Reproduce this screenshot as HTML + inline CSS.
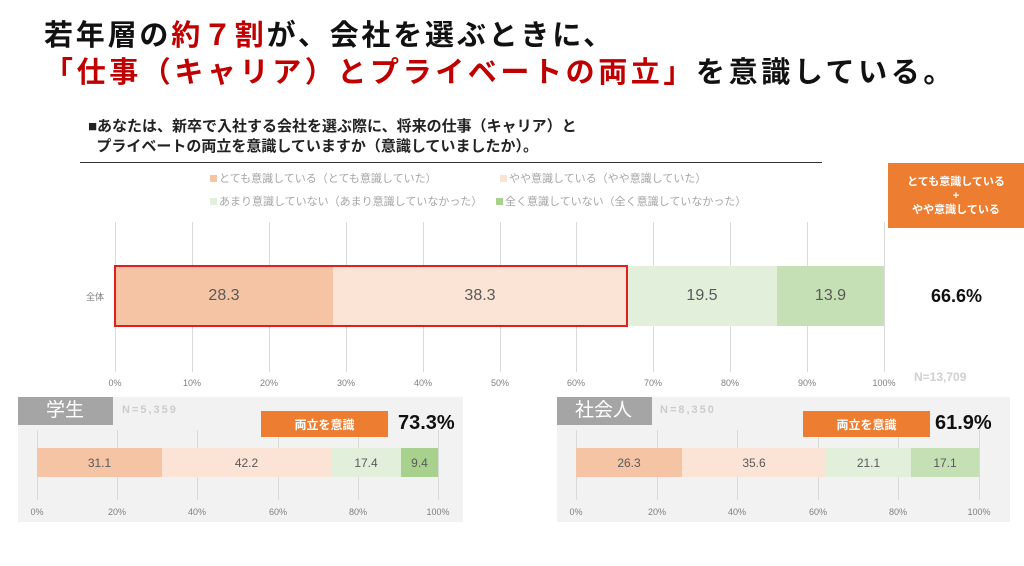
<!DOCTYPE html><html><head><meta charset="utf-8"><style>
body{margin:0;width:1024px;height:566px;background:#fff;position:relative;overflow:hidden;font-family:"Liberation Sans","Noto Sans CJK JP",sans-serif}
.a{position:absolute;white-space:nowrap}
.t{font-weight:bold;font-size:29px;color:#111;letter-spacing:3.6px}
.r{color:#c00000}
.g{position:absolute;width:1px;background:#d9d9d9}
.seg{position:absolute;display:flex;align-items:center;justify-content:center;color:#595959}
.tk{position:absolute;font-size:9px;color:#7f7f7f;transform:translateX(-50%)}
.ob{position:absolute;z-index:5;background:#ed7d31;color:#fff;font-weight:bold;display:flex;align-items:center;justify-content:center;text-align:center}
.lg{font-size:11px;color:#a6a6a6}
.sq{display:inline-block;width:7px;height:7px;margin-right:2px}
</style></head><body>
<div class="a t" style="left:44px;top:12px;letter-spacing:2.8px">若年層の<span class="r">約７割</span>が、会社を選ぶときに、</div>
<div class="a t" style="left:44px;top:49px"><span class="r">「仕事（キャリア）とプライベートの両立」</span>を意識している。</div>
<div class="a" style="left:88px;top:117px;font-size:15px;font-weight:bold;color:#222;line-height:20px">■あなたは、新卒で入社する会社を選ぶ際に、将来の仕事（キャリア）と<br>&nbsp;&nbsp;プライベートの両立を意識していますか（意識していましたか）。</div>
<div class="a" style="left:80px;top:162px;width:742px;height:1px;background:#333"></div>
<div class="a lg" style="left:210px;top:170px"><span class="sq" style="background:#f5c4a5"></span>とても意識している（とても意識していた）</div>
<div class="a lg" style="left:500px;top:170px"><span class="sq" style="background:#fbe3d6"></span>やや意識している（やや意識していた）</div>
<div class="a lg" style="left:210px;top:193px"><span class="sq" style="background:#e2efda"></span>あまり意識していない（あまり意識していなかった）</div>
<div class="a lg" style="left:496px;top:193px"><span class="sq" style="background:#a9d18e"></span>全く意識していない（全く意識していなかった）</div>
<div class="ob" style="left:888px;top:163px;width:136px;height:65px;font-size:11px;line-height:14px">とても意識している<br>+<br>やや意識している</div>
<!-- main grid -->
<div class="g" style="left:115px;top:222px;height:150px"></div><div class="g" style="left:192px;top:222px;height:150px"></div><div class="g" style="left:269px;top:222px;height:150px"></div><div class="g" style="left:346px;top:222px;height:150px"></div><div class="g" style="left:423px;top:222px;height:150px"></div><div class="g" style="left:500px;top:222px;height:150px"></div><div class="g" style="left:576px;top:222px;height:150px"></div><div class="g" style="left:653px;top:222px;height:150px"></div><div class="g" style="left:730px;top:222px;height:150px"></div><div class="g" style="left:807px;top:222px;height:150px"></div><div class="g" style="left:884px;top:222px;height:150px"></div>
<div class="seg" style="left:115px;top:266px;width:218px;height:60px;background:#f5c4a5;font-size:16px">28.3</div>
<div class="seg" style="left:333px;top:266px;width:294px;height:60px;background:#fbe3d6;font-size:16px">38.3</div>
<div class="seg" style="left:627px;top:266px;width:150px;height:60px;background:#e2efda;font-size:16px">19.5</div>
<div class="seg" style="left:777px;top:266px;width:107px;height:60px;background:#c5e0b4;font-size:16px">13.9</div>
<div class="a" style="left:114px;top:265px;width:510px;height:58px;border:2px solid #e02020"></div>
<div class="a" style="left:86px;top:290px;font-size:9px;color:#7f7f7f">全体</div>
<div class="a" style="left:931px;top:286px;font-size:18px;font-weight:bold;color:#111">66.6%</div>
<div class="tk" style="left:115px;top:378px">0%</div><div class="tk" style="left:192px;top:378px">10%</div><div class="tk" style="left:269px;top:378px">20%</div><div class="tk" style="left:346px;top:378px">30%</div><div class="tk" style="left:423px;top:378px">40%</div><div class="tk" style="left:500px;top:378px">50%</div><div class="tk" style="left:576px;top:378px">60%</div><div class="tk" style="left:653px;top:378px">70%</div><div class="tk" style="left:730px;top:378px">80%</div><div class="tk" style="left:807px;top:378px">90%</div><div class="tk" style="left:884px;top:378px">100%</div>
<div class="a" style="left:914px;top:370px;font-size:12px;color:#d0d0d0;font-weight:bold">N=13,709</div>
<!-- student -->
<div class="a" style="left:18px;top:397px;width:445px;height:125px;background:#f2f2f2"></div>
<div class="a" style="left:18px;top:397px;width:95px;height:28px;background:#a5a5a5;color:#fff;font-size:19px;line-height:28px;padding-left:28px;box-sizing:border-box">学生</div>
<div class="a" style="left:122px;top:404px;font-size:11px;color:#ccc;font-weight:bold;letter-spacing:2px">N=5,359</div>
<div class="g" style="left:37px;top:430px;height:70px"></div><div class="g" style="left:117px;top:430px;height:70px"></div><div class="g" style="left:197px;top:430px;height:70px"></div><div class="g" style="left:278px;top:430px;height:70px"></div><div class="g" style="left:358px;top:430px;height:70px"></div><div class="g" style="left:438px;top:430px;height:70px"></div>
<div class="ob" style="left:261px;top:411px;width:127px;height:26px;font-size:12px">両立を意識</div>
<div class="a" style="left:398px;top:412px;font-size:20px;font-weight:bold;color:#111">73.3%</div>
<div class="seg" style="left:37px;top:448px;width:125px;height:29px;background:#f5c4a5;font-size:12px">31.1</div>
<div class="seg" style="left:162px;top:448px;width:169px;height:29px;background:#fbe3d6;font-size:12px">42.2</div>
<div class="seg" style="left:331px;top:448px;width:70px;height:29px;background:#e2efda;font-size:12px">17.4</div>
<div class="seg" style="left:401px;top:448px;width:37px;height:29px;background:#a9d18e;font-size:12px">9.4</div>
<div class="tk" style="left:37px;top:507px">0%</div><div class="tk" style="left:117px;top:507px">20%</div><div class="tk" style="left:197px;top:507px">40%</div><div class="tk" style="left:278px;top:507px">60%</div><div class="tk" style="left:358px;top:507px">80%</div><div class="tk" style="left:438px;top:507px">100%</div>
<!-- worker -->
<div class="a" style="left:557px;top:397px;width:453px;height:125px;background:#f2f2f2"></div>
<div class="a" style="left:557px;top:397px;width:95px;height:28px;background:#a5a5a5;color:#fff;font-size:19px;line-height:28px;padding-left:18px;box-sizing:border-box">社会人</div>
<div class="a" style="left:660px;top:404px;font-size:11px;color:#ccc;font-weight:bold;letter-spacing:2px">N=8,350</div>
<div class="g" style="left:576px;top:430px;height:70px"></div><div class="g" style="left:657px;top:430px;height:70px"></div><div class="g" style="left:737px;top:430px;height:70px"></div><div class="g" style="left:818px;top:430px;height:70px"></div><div class="g" style="left:898px;top:430px;height:70px"></div><div class="g" style="left:979px;top:430px;height:70px"></div>
<div class="ob" style="left:803px;top:411px;width:127px;height:26px;font-size:12px">両立を意識</div>
<div class="a" style="left:935px;top:412px;font-size:20px;font-weight:bold;color:#111">61.9%</div>
<div class="seg" style="left:576px;top:448px;width:106px;height:29px;background:#f5c4a5;font-size:12px">26.3</div>
<div class="seg" style="left:682px;top:448px;width:144px;height:29px;background:#fbe3d6;font-size:12px">35.6</div>
<div class="seg" style="left:826px;top:448px;width:85px;height:29px;background:#e2efda;font-size:12px">21.1</div>
<div class="seg" style="left:911px;top:448px;width:68px;height:29px;background:#c5e0b4;font-size:12px">17.1</div>
<div class="tk" style="left:576px;top:507px">0%</div><div class="tk" style="left:657px;top:507px">20%</div><div class="tk" style="left:737px;top:507px">40%</div><div class="tk" style="left:818px;top:507px">60%</div><div class="tk" style="left:898px;top:507px">80%</div><div class="tk" style="left:979px;top:507px">100%</div>
</body></html>
